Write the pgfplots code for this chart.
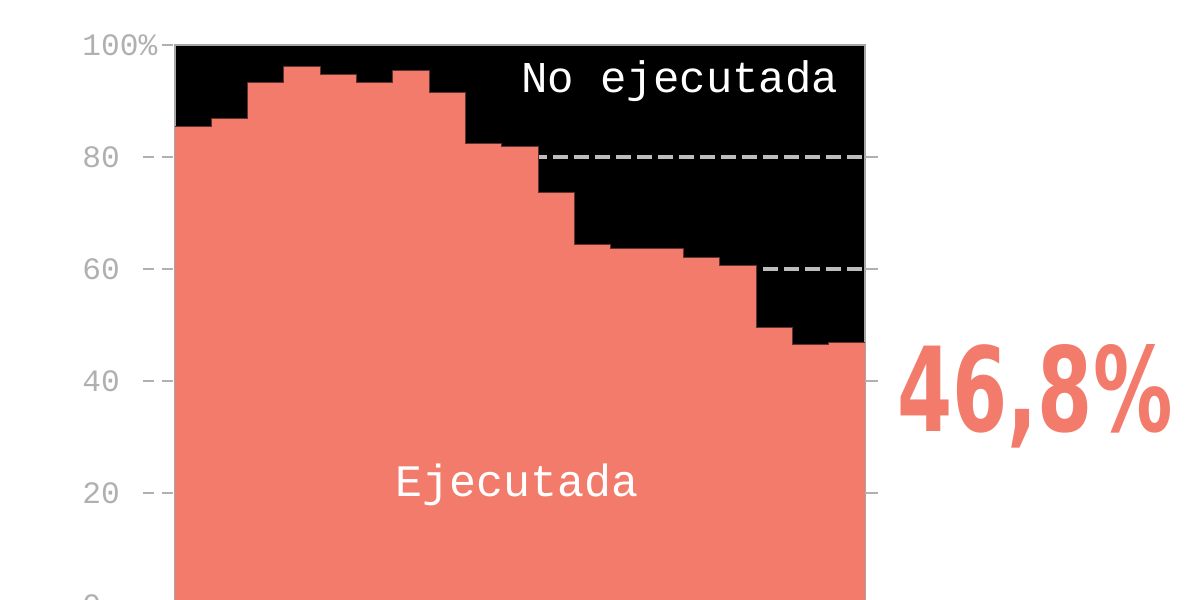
\documentclass[border=0pt]{standalone}
\usepackage{pgfplots}
\pgfplotsset{compat=1.18}
\usepackage{pgfplotstable}
\usepackage{graphicx}
\usepackage{fontspec}
\setmainfont{Liberation Mono}
\newfontfamily\bigfont{DejaVu Sans Condensed Bold}
\definecolor{salmon}{HTML}{F37B6B}
\definecolor{tickgray}{HTML}{B0B0B0}
\definecolor{gridgray}{HTML}{BDBDBD}
\pgfplotstableread{
x y
0 85.4
1 86.8
2 93.3
3 96.1
4 94.8
5 93.3
6 95.5
7 91.5
8 82.4
9 81.8
10 73.7
11 64.4
12 63.6
13 63.7
14 62.0
15 60.7
16 49.6
17 46.6
18 46.8
19 46.8
}\datatable
\begin{document}
\begin{tikzpicture}
\useasboundingbox (0,0) rectangle (600pt,300pt);
\begin{axis}[
  at={(87.5pt,-2.5pt)}, anchor=south west,
  scale only axis, width=345pt, height=280pt,
  xmin=0, xmax=19, ymin=0, ymax=100,
  xtick=\empty, ytick={20,40,60,80}, yticklabels={},
  major tick length=0pt,
  ymajorgrids,
  major grid style={gridgray, line width=1.6pt, dash pattern=on 7.5pt off 3pt},
  axis background/.style={fill=black},
  axis line style={draw=gray!70, line width=0.6pt},
  clip=false,
]
\addplot[const plot, fill=salmon, draw=none] table[x=x,y=y]{\datatable} \closedcycle;
\addplot[const plot, draw=black!60!salmon, line width=0.5pt] table[x=x,y=y]{\datatable};
\end{axis}
\begin{axis}[
  at={(87.5pt,-2.5pt)}, anchor=south west,
  scale only axis, width=345pt, height=280pt,
  xmin=0, xmax=19, ymin=0, ymax=100,
  hide axis, clip=false,
]
\pgfplotsinvokeforeach{0,20,40,60,80}{
  \node[anchor=west, inner sep=0pt, text=tickgray, font=\fontsize{15.6}{16}\selectfont] at (axis cs:-2.561,#1) {#1};
  \draw[tickgray, line width=1.2pt] (axis cs:-0.881,#1) -- (axis cs:-0.578,#1);
  \draw[tickgray, line width=1.2pt] (axis cs:-0.358,#1) -- (axis cs:-0.06,#1);
  \draw[tickgray, line width=0.6pt] (axis cs:19,#1) -- ++(6.5pt,0);
}
\node[anchor=west, inner sep=0pt, text=tickgray, font=\fontsize{15.6}{16}\selectfont] at (axis cs:-2.561,100) {100\%};
\draw[tickgray, line width=1.2pt] (axis cs:-0.358,100) -- (axis cs:-0.06,100);

\node[anchor=base west, inner sep=0pt, text=white, font=\fontsize{22}{24}\selectfont] at (axis cs:9.527,91.43) {No ejecutada};
\node[anchor=base west, inner sep=0pt, text=white, font=\fontsize{22.5}{24}\selectfont] at (axis cs:6.058,19.29) {Ejecutada};
\node[anchor=base west, inner sep=0pt, text=salmon] at (axis cs:19.88,30.9) {\resizebox{137.5pt}{43.5pt}{\bigfont 46,8\%}};
\end{axis}
\end{tikzpicture}
\end{document}
